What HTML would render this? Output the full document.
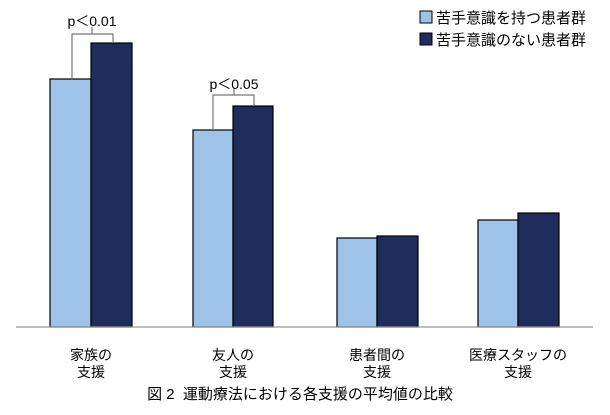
<!DOCTYPE html>
<html><head><meta charset="utf-8"><style>
body{margin:0;background:#fff}
svg text{font-family:"Liberation Sans","Noto Sans CJK JP",sans-serif;fill:#000}
</style></head><body>
<svg width="610" height="410" viewBox="0 0 610 410">
<g stroke="#000" stroke-width="1.2">
<rect x="50" y="79" width="41" height="248" fill="#9dc3e8"/>
<rect x="91" y="43" width="41" height="284" fill="#1f2d5c"/>
<rect x="193" y="130" width="40" height="197" fill="#9dc3e8"/>
<rect x="233" y="106" width="40" height="221" fill="#1f2d5c"/>
<rect x="337" y="238" width="40" height="89" fill="#9dc3e8"/>
<rect x="377" y="236" width="41" height="91" fill="#1f2d5c"/>
<rect x="478" y="220" width="40" height="107" fill="#9dc3e8"/>
<rect x="518" y="213" width="41" height="114" fill="#1f2d5c"/>
</g>
<line x1="16" y1="327" x2="593" y2="327" stroke="#999" stroke-width="1.2"/>
<g fill="none" stroke="#777" stroke-width="1.2">
<polyline points="72,79 72,34 113,34 113,43"/>
<line x1="92" y1="34" x2="92" y2="27"/>
<polyline points="213,130 213,95 254,95 254,106"/>
<line x1="234" y1="95" x2="234" y2="88"/>
</g>
<text x="92" y="26" font-size="14" text-anchor="middle">p＜0.01</text>
<text x="234" y="89" font-size="14" text-anchor="middle">p＜0.05</text>
<rect x="420" y="11" width="12" height="12" fill="#9dc3e8" stroke="#000"/>
<rect x="420" y="33" width="12" height="12" fill="#1f2d5c" stroke="#000"/>
<text x="436" y="23" font-size="15">苦手意識を持つ患者群</text>
<text x="436" y="45" font-size="15">苦手意識のない患者群</text>
<g font-size="14" text-anchor="middle">
<text x="91" y="360">家族の</text><text x="91" y="377">支援</text>
<text x="233" y="360">友人の</text><text x="233" y="377">支援</text>
<text x="377" y="360">患者間の</text><text x="377" y="377">支援</text>
<text x="518" y="360">医療スタッフの</text><text x="518" y="377">支援</text>
</g>
<text x="300" y="399" font-size="15" text-anchor="middle" style="white-space:pre">図 2  運動療法における各支援の平均値の比較</text>
</svg>
</body></html>
